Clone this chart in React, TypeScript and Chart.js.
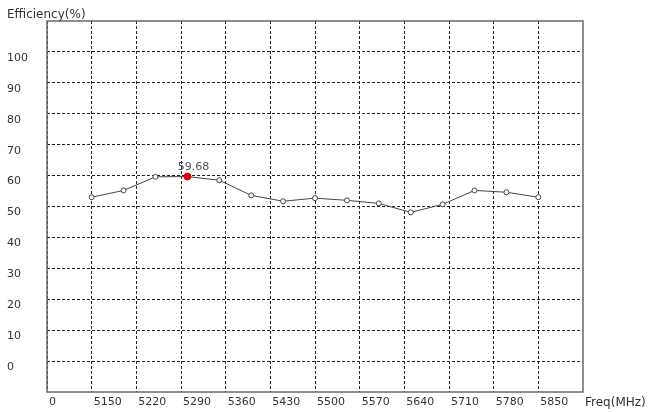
import React, { useEffect, useRef } from 'react';
import { Chart, registerables } from 'chart.js';

Chart.register(...registerables);

const frequencies = [5150, 5200, 5250, 5300, 5350, 5400, 5450, 5500, 5550, 5600, 5650, 5700, 5750, 5800, 5850];
const efficiency = [53.0, 55.2, 59.6, 59.68, 58.5, 53.6, 51.7, 52.7, 52.0, 51.0, 48.1, 50.7, 55.2, 54.6, 53.0];
const peakIndex = 3;
const peakLabel = '59.68';

const xTickValues = [5080, 5150, 5220, 5290, 5360, 5430, 5500, 5570, 5640, 5710, 5780, 5850];
const xTickLabels = ['0', '5150', '5220', '5290', '5360', '5430', '5500', '5570', '5640', '5710', '5780', '5850'];
const yTickValues = [0, 10, 20, 30, 40, 50, 60, 70, 80, 90, 100];

const yAxisTitle = 'Efficiency(%)';
const xAxisTitle = 'Freq(MHz)';

const FONT_FAMILY = '"DejaVu Sans", sans-serif';

export default function App() {
  const ref = useRef<HTMLCanvasElement | null>(null);

  useEffect(() => {
    document.body.style.margin = '0';
    const canvas = ref.current;
    if (!canvas) return;

    const framePlugin = {
      id: 'frameAndText',
      beforeDatasetsDraw(chart: any) {
        const { ctx, chartArea: a } = chart;
        ctx.save();
        ctx.setLineDash([]);
        ctx.strokeStyle = '#6a6a6a';
        ctx.lineWidth = 1.5;
        ctx.strokeRect(a.left, a.top, a.right - a.left, a.bottom - a.top);
        ctx.restore();
      },
      afterDraw(chart: any) {
        const { ctx, chartArea: a } = chart;
        ctx.save();
        ctx.font = `12px ${FONT_FAMILY}`;
        ctx.fillStyle = '#333';
        ctx.textBaseline = 'middle';
        ctx.textAlign = 'left';
        ctx.fillText(yAxisTitle, 7, 15);
        ctx.fillText(xAxisTitle, a.right + 2, a.bottom + 11);
        const meta = chart.getDatasetMeta(0);
        const pt = meta.data[peakIndex];
        if (pt) {
          ctx.font = `11px ${FONT_FAMILY}`;
          ctx.textAlign = 'center';
          ctx.fillStyle = '#555';
          ctx.fillText(peakLabel, pt.x + 6, pt.y - 9);
        }
        ctx.restore();
      },
    };

    const chart = new Chart(canvas, {
      type: 'line',
      data: {
        datasets: [
          {
            data: frequencies.map((f, i) => ({ x: f, y: efficiency[i] })),
            borderColor: '#444',
            borderWidth: 1,
            tension: 0,
            pointRadius: efficiency.map((_, i) => (i === peakIndex ? 3.5 : 2.5)),
            pointBackgroundColor: efficiency.map((_, i) => (i === peakIndex ? '#e00000' : '#ffffff')),
            pointBorderColor: efficiency.map((_, i) => (i === peakIndex ? '#e00000' : '#444')),
            pointBorderWidth: 1,
          },
        ],
      },
      options: {
        responsive: false,
        animation: false,
        events: [],
        layout: { padding: { left: 7, top: 21, right: 66, bottom: 0 } },
        plugins: {
          legend: { display: false },
          tooltip: { enabled: false },
        },
        scales: {
          x: {
            type: 'linear',
            min: 5080,
            max: 5920,
            afterBuildTicks: (scale: any) => {
              scale.ticks = xTickValues.map((v) => ({ value: v }));
            },
            afterFit: (scale: any) => {
              scale.height = 20;
            },
            ticks: {
              autoSkip: false,
              maxRotation: 0,
              minRotation: 0,
              align: 'start',
              labelOffset: 2,
              padding: 4,
              color: '#333',
              font: { family: FONT_FAMILY, size: 11 },
              callback: (value: any) => {
                const idx = xTickValues.indexOf(Number(value));
                return idx >= 0 ? xTickLabels[idx] : '';
              },
            },
            grid: {
              color: '#222',
              lineWidth: 1,
              drawTicks: false,
            },
            border: { display: false, dash: [3, 2] },
          },
          y: {
            type: 'linear',
            min: -10,
            max: 110,
            afterBuildTicks: (scale: any) => {
              scale.ticks = yTickValues.map((v) => ({ value: v }));
            },
            afterFit: (scale: any) => {
              scale.width = 40;
            },
            ticks: {
              crossAlign: 'far',
              labelOffset: 6,
              color: '#333',
              font: { family: FONT_FAMILY, size: 11 },
              callback: (value: any) => String(value),
            },
            grid: {
              color: '#222',
              lineWidth: 1,
              drawTicks: false,
            },
            border: { display: false, dash: [3, 2] },
          },
        },
      },
      plugins: [framePlugin],
    });

    return () => {
      chart.destroy();
    };
  }, []);

  return (
    <div style={{ width: 649, height: 412 }}>
      <canvas ref={ref} width={649} height={412} style={{ display: 'block' }} />
    </div>
  );
}
